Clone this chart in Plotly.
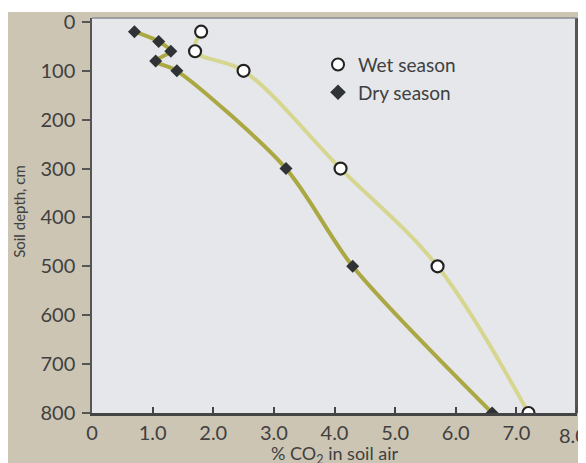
import plotly.graph_objects as go

# Data
dry_co2 = [0.7, 1.1, 1.3, 1.05, 1.4, 3.2, 4.3, 6.6]
dry_depth = [20, 40, 60, 80, 100, 300, 500, 800]
wet_co2 = [1.8, 1.7, 2.5, 4.1, 5.7, 7.2]
wet_depth = [20, 60, 100, 300, 500, 800]
x_ticks = [0, 1, 2, 3, 4, 5, 6, 7]
x_tick_labels = ["0", "1.0", "2.0", "3.0", "4.0", "5.0", "6.0", "7.0"]
x_last_tick = 8
x_last_label = "8.0"
y_ticks = [0, 100, 200, 300, 400, 500, 600, 700, 800]
x_title = "% CO<sub>2</sub> in soil air"
y_title = "Soil depth, cm"

FONT = "Lato"
TXT = "#404040"

fig = go.Figure()

# curves
fig.add_trace(go.Scatter(x=wet_co2, y=wet_depth, mode="lines",
                         line=dict(color="#d6d690", width=4, shape="spline", smoothing=1.0),
                         showlegend=False, hoverinfo="skip"))
fig.add_trace(go.Scatter(x=dry_co2, y=dry_depth, mode="lines",
                         line=dict(color="#aba843", width=4, shape="spline", smoothing=0.8),
                         showlegend=False, hoverinfo="skip"))
# markers
fig.add_trace(go.Scatter(x=wet_co2, y=wet_depth, mode="markers", name="Wet season",
                         marker=dict(symbol="circle", size=12, color="white",
                                     line=dict(color="#222222", width=2.2))))
fig.add_trace(go.Scatter(x=dry_co2, y=dry_depth, mode="markers", name="Dry season",
                         marker=dict(symbol="diamond", size=10, color="#2f3335",
                                     line=dict(color="#2f3335", width=0))))

# top white strip of the photo
fig.add_shape(type="rect", xref="paper", yref="paper", x0=-0.3, x1=1.1, y0=1.015, y1=1.06,
              fillcolor="white", line=dict(width=0), layer="below")
# right / top border of plot frame
fig.add_shape(type="line", xref="paper", yref="paper", x0=1, x1=1, y0=0, y1=1,
              line=dict(color="#555555", width=4))
fig.add_shape(type="line", xref="paper", yref="paper", x0=0, x1=1, y0=1, y1=1,
              line=dict(color="#8a8d92", width=1.5))

# last x tick label (cut at the right edge in the reference)
fig.add_annotation(x=x_last_tick, xref="x", y=0, yref="paper", yshift=-8, xshift=-4,
                   text=x_last_label, showarrow=False, xanchor="center", yanchor="top",
                   font=dict(size=20, color=TXT, family=FONT))
fig.add_shape(type="line", xref="x", yref="paper", x0=x_last_tick, x1=x_last_tick,
              y0=0, y1=0.015, line=dict(color="#444444", width=1.5))

# axis titles
fig.add_annotation(x=0.5, xref="paper", y=-0.105, yref="paper", text=x_title,
                   showarrow=False, xanchor="center", yanchor="middle",
                   font=dict(size=18, color=TXT, family=FONT))
fig.add_annotation(x=-0.152, xref="paper", y=0.51, yref="paper", text=y_title,
                   showarrow=False, textangle=-90, xanchor="center", yanchor="middle",
                   font=dict(size=15, color=TXT, family=FONT))

fig.update_layout(
    width=578, height=455,
    margin=dict(l=84, r=9, t=10, b=50),
    paper_bgcolor="#cdc5b4",
    plot_bgcolor="#e5e7eb",
    font=dict(family=FONT, color=TXT, size=18),
    legend=dict(x=0.466, y=0.93, xanchor="left", yanchor="top",
                bgcolor="rgba(0,0,0,0)", font=dict(size=19, color=TXT),
                itemsizing="constant", tracegroupgap=4, itemwidth=30),
)
fig.update_xaxes(range=[0, 8], tickvals=x_ticks, ticktext=x_tick_labels,
                 automargin=False,
                 showgrid=False, zeroline=False,
                 showline=True, linecolor="#444444", linewidth=3,
                 ticks="inside", ticklen=6, tickcolor="#444444", tickwidth=1.5,
                 tickfont=dict(size=20, color=TXT))
fig.update_yaxes(range=[800, -8], tickvals=y_ticks,
                 automargin=False,
                 showgrid=False, zeroline=False,
                 showline=True, linecolor="#555555", linewidth=1.5,
                 ticks="outside", ticklen=8, tickcolor="#555555", tickwidth=1.5,
                 ticklabelstandoff=3,
                 tickfont=dict(size=20, color=TXT))

fig.write_html("out.html")
